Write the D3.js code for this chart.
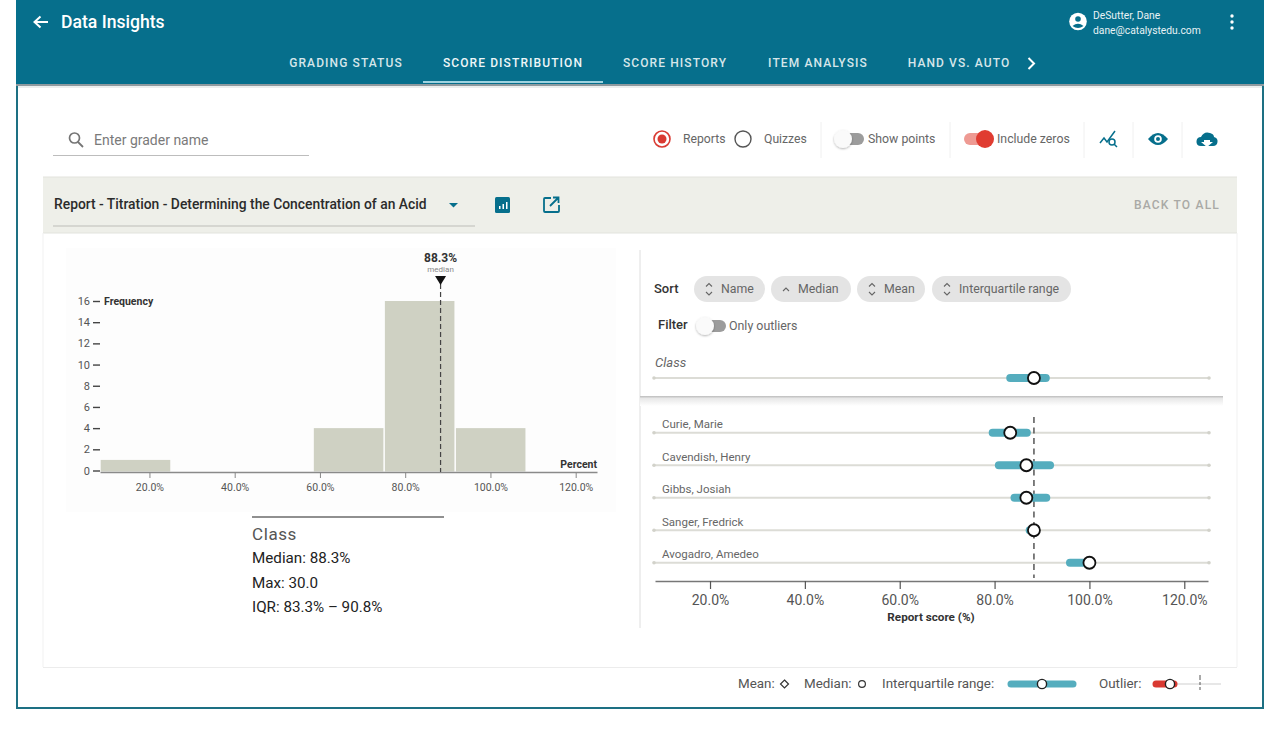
<!DOCTYPE html>
<html>
<head>
<meta charset="utf-8">
<script src="https://cdn.jsdelivr.net/npm/d3@7"></script>
<style>
  html, body { margin: 0; padding: 0; background: #fff; }
  svg { display: block; font-family: Roboto, sans-serif; }
</style>
</head>
<body>
<div id="chart"></div>
<script>
// histogram data
const binStarts = [8.33, 25, 41.67, 58.33, 75, 91.67];
const binEnds = [25, 41.67, 58.33, 75, 91.67, 108.33];
const frequencies = [1, 0, 0, 4, 16, 4];
const classMedian = 88.3;

// graders
const graders = ["Curie, Marie", "Cavendish, Henry", "Gibbs, Josiah", "Sanger, Fredrick", "Avogadro, Amedeo"];
const graderQ1 = [79.6, 80.9, 84.2, 87.4, 95.9];
const graderQ3 = [86.8, 91.7, 90.9, 88.3, 100];
const graderMedian = [83.3, 86.7, 86.7, 88.3, 100];
const classQ1 = 83.3;
const classQ3 = 90.8;

const xTicks = [20, 40, 60, 80, 100, 120];
const yTicks = [0, 2, 4, 6, 8, 10, 12, 14, 16];
const tabs = ["GRADING STATUS", "SCORE DISTRIBUTION", "SCORE HISTORY", "ITEM ANALYSIS", "HAND VS. AUTO"];
const tabX = [346, 513, 675, 818, 959];
const sortChips = ["Name", "Median", "Mean", "Interquartile range"];
const summaryLines = ["Median: 88.3%", "Max: 30.0", "IQR: 83.3% – 90.8%"];

const teal = "#066f8c";
const svg = d3.select("#chart").append("svg").attr("width", 1280).attr("height", 730);

const defs = svg.append("defs");
const fade = defs.append("linearGradient").attr("id", "fade").attr("x1", 0).attr("y1", 0).attr("x2", 0).attr("y2", 1);
fade.append("stop").attr("offset", "0%").attr("stop-color", "#bcbcbc");
fade.append("stop").attr("offset", "25%").attr("stop-color", "#e8e8e8");
fade.append("stop").attr("offset", "100%").attr("stop-color", "#ffffff");
const thumbShadow = defs.append("filter").attr("id", "thumbShadow").attr("x", "-50%").attr("y", "-50%").attr("width", "200%").attr("height", "200%");
thumbShadow.append("feDropShadow").attr("dx", 0).attr("dy", 1).attr("stdDeviation", 1.2).attr("flood-color", "#000").attr("flood-opacity", 0.3);

function label(x, y, str, size, color, opts = {}) {
    return svg.append("text").attr("x", x).attr("y", y).text(str)
        .attr("font-size", size).attr("fill", color)
        .attr("text-anchor", opts.anchor || "start")
        .attr("font-weight", opts.weight || 400)
        .attr("font-style", opts.style || "normal")
        .attr("letter-spacing", opts.spacing || 0);
}

function box(x, y, w, h, fill, r = 0) {
    return svg.append("rect").attr("x", x).attr("y", y).attr("width", w).attr("height", h).attr("rx", r).attr("fill", fill);
}

function rule(x1, y1, x2, y2, color, width = 1) {
    return svg.append("line").attr("x1", x1).attr("y1", y1).attr("x2", x2).attr("y2", y2)
        .attr("stroke", color).attr("stroke-width", width);
}

function icon(d, fill, stroke, width = 0) {
    return svg.append("path").attr("d", d).attr("fill", fill).attr("stroke", stroke).attr("stroke-width", width);
}

function toggle(x, y, on) {
    box(x, y - 6, 28, 12, on ? "#ee9a93" : "#9c9c9c", 6);
    if (on) {
        svg.append("circle").attr("cx", x + 21).attr("cy", y).attr("r", 9).attr("fill", "#e03c31");
    } else {
        svg.append("circle").attr("cx", x + 7).attr("cy", y).attr("r", 9).attr("fill", "#fafafa").attr("filter", "url(#thumbShadow)");
    }
}

function drawHeader() {
    // frame
    svg.append("rect").attr("x", 17).attr("y", 0).attr("width", 1246).attr("height", 708)
        .attr("fill", "#fff").attr("stroke", "#1d7083").attr("stroke-width", 2);
    box(16, 0, 1248, 84, teal);
    box(16, 84, 1248, 2, "#8f9a9f");
    box(16, 86, 1248, 2, "#eceeee");
    rule(17, 86, 17, 708, "#1d7083", 2);
    rule(1263, 86, 1263, 708, "#1d7083", 2);

    icon("M48,22 H35 M40.5,16.5 L34.5,22 L40.5,27.5", "none", "#fff", 2);
    label(61, 28, "Data Insights", 17.6, "#fff", { weight: 500 });

    tabs.forEach((t, i) => {
        label(tabX[i], 67, t, 12, i === 1 ? "#eef6f8" : "#d6e6ea", { anchor: "middle", weight: 500, spacing: 1.1 });
    });
    box(423, 81, 180, 2, "#9fd3e0");
    icon("M1028.5,58 L1034,63.5 L1028.5,69", "none", "#fff", 2);

    // user block
    svg.append("circle").attr("cx", 1078).attr("cy", 21.5).attr("r", 8.8).attr("fill", "#fff");
    svg.append("circle").attr("cx", 1078).attr("cy", 19).attr("r", 2.8).attr("fill", teal);
    icon("M1072.5,26 Q1078,21.5 1083.5,26 Q1078,30 1072.5,26 Z", teal, "none");
    label(1093, 19, "DeSutter, Dane", 10.3, "#e8f2f5");
    label(1093, 34, "dane@catalystedu.com", 10.3, "#e8f2f5");
    [16, 22, 28].forEach(y => svg.append("circle").attr("cx", 1232).attr("cy", y).attr("r", 1.7).attr("fill", "#fff"));
}

function drawToolbar() {
    svg.append("circle").attr("cx", 74.5).attr("cy", 138).attr("r", 5).attr("fill", "none").attr("stroke", "#757575").attr("stroke-width", 1.7);
    rule(78, 142, 83, 147, "#757575", 1.8);
    label(94, 145, "Enter grader name", 14, "#7a7a7a");
    rule(53, 155.5, 309, 155.5, "#bdbdbd", 1);

    svg.append("circle").attr("cx", 662).attr("cy", 139).attr("r", 8).attr("fill", "none").attr("stroke", "#d93a32").attr("stroke-width", 1.6);
    svg.append("circle").attr("cx", 662).attr("cy", 139).attr("r", 4.5).attr("fill", "#d93a32");
    label(683, 143, "Reports", 12.2, "#666");
    svg.append("circle").attr("cx", 743).attr("cy", 139).attr("r", 8).attr("fill", "none").attr("stroke", "#555").attr("stroke-width", 1.4);
    label(764, 143, "Quizzes", 12.2, "#666");
    [821, 950, 1084, 1133, 1182].forEach(x => rule(x, 122, x, 158, "#f0f0f0", 1));
    toggle(836, 139, false);
    label(868, 143, "Show points", 12.3, "#666");
    toggle(964, 139, true);
    label(997, 143, "Include zeros", 12.3, "#666");

    icon("M1100,143 L1104,138 L1107,142 L1115,131", "none", teal, 1.5);
    svg.append("circle").attr("cx", 1112).attr("cy", 142).attr("r", 3).attr("fill", "none").attr("stroke", teal).attr("stroke-width", 1.5);
    rule(1114, 144, 1117, 147, teal, 1.5);

    icon("M1148,139 Q1158,127 1168,139 Q1158,151 1148,139 Z", teal, "none");
    svg.append("circle").attr("cx", 1158).attr("cy", 139).attr("r", 3.8).attr("fill", "#fff");
    svg.append("circle").attr("cx", 1158).attr("cy", 139).attr("r", 2).attr("fill", teal);

    icon("M1201,146 Q1196,146 1196.5,141 Q1197,137 1201,137 Q1204,131 1210,133 Q1214,134 1214,137 Q1218,138 1217.5,142 Q1217,146 1213,146 Z", teal, "none");
    icon("M1204,140 H1210 V142 H1213 L1207,147 L1201,142 H1204 Z", "#fff", "none");

    // title strip
    box(43, 177, 1194, 56, "#eeefe9");
    rule(43, 177, 1237, 177, "#e2e3dd");
    rule(43, 233, 1237, 233, "#e2e3dd");
    label(54, 209, "Report - Titration - Determining the Concentration of an Acid", 13.85, "#2b2b2b", { weight: 500 });
    rule(53, 226, 475, 226, "#bdbdb8");
    icon("M449,203 H458 L453.5,207.5 Z", teal, "none");
    box(495, 197, 15, 16, teal, 1.5);
    [[499, 206, 3], [502.5, 204, 5], [506, 202, 7]].forEach(b => box(b[0], b[1], 1.5, b[2], "#fff"));
    icon("M551,198 H545 Q544,198 544,199 V211 Q544,212 545,212 H558 Q559,212 559,211 V205 M550,206 L558.5,197.5 M553,197.5 H558.5 V203", "none", teal, 1.8);
    label(1220, 209, "BACK TO ALL", 12, "#a9a9a5", { anchor: "end", weight: 500, spacing: 1.2 });

    // panel outline
    rule(43, 233, 43, 667, "#f1f1f1");
    rule(1237, 233, 1237, 667, "#f1f1f1");
    rule(43, 667.5, 1237, 667.5, "#ececec");
    box(66, 248, 550, 264, "#fdfdfd");
}

function drawHistogram() {
    const x = d3.scaleLinear().domain([8.4, 125]).range([100, 597]);
    const y = d3.scaleLinear().domain([0, 16]).range([470.5, 301]);
    const g = svg.append("g").attr("class", "histogram");

    g.selectAll("rect").data(frequencies.map((f, i) => ({ f, i })).filter(d => d.f > 0)).enter().append("rect")
        .attr("x", d => x(binStarts[d.i]) + 1)
        .attr("width", d => x(binEnds[d.i]) - x(binStarts[d.i]) - 1.5)
        .attr("y", d => y(d.f))
        .attr("height", d => y(0) - y(d.f) + 1)
        .attr("fill", "#cfd1c3");

    const xAxis = g.append("g").attr("transform", "translate(0,472)")
        .call(d3.axisBottom(x).tickValues(xTicks).tickSize(6).tickSizeOuter(0).tickPadding(6).tickFormat(d => d.toFixed(1) + "%"));
    xAxis.select(".domain").attr("stroke", "#8a8a8a").attr("stroke-width", 1.6);
    xAxis.selectAll(".tick line").attr("stroke", "#888");
    xAxis.selectAll("text").attr("font-family", "Roboto, sans-serif").attr("font-size", 10.5).attr("fill", "#555");

    const yAxis = g.append("g").attr("transform", "translate(100,0)")
        .call(d3.axisLeft(y).tickValues(yTicks).tickSize(7).tickPadding(3));
    yAxis.select(".domain").remove();
    yAxis.selectAll(".tick line").attr("stroke", "#444").attr("stroke-width", 1.4);
    yAxis.selectAll("text").attr("font-family", "Roboto, sans-serif").attr("font-size", 11).attr("fill", "#555");

    label(104, 305, "Frequency", 10.5, "#333", { weight: 700 });
    label(597, 468, "Percent", 10.5, "#333", { anchor: "end", weight: 700 });

    const mx = x(classMedian);
    rule(mx, 284, mx, 472, "#444", 1.2).attr("stroke-dasharray", "5 3");
    icon(`M${mx - 5.5},276 H${mx + 5.5} L${mx},285 Z`, "#111", "none");
    label(mx, 262, classMedian + "%", 12, "#333", { anchor: "middle", weight: 700 });
    label(mx, 272, "median", 8, "#888", { anchor: "middle" });

    // summary block
    rule(252, 517, 444, 517, "#222", 1.2);
    label(252, 540, "Class", 17, "#555", { spacing: 0.6 });
    [563, 588, 612].forEach((ly, i) => label(252, ly, summaryLines[i], 15.2, "#222"));
}

function drawTrack(g, cy) {
    g.append("line").attr("x1", 654).attr("x2", 1209).attr("y1", cy).attr("y2", cy).attr("stroke", "#dcdcd6").attr("stroke-width", 1.8);
    [654, 1209].forEach(cx => g.append("circle").attr("cx", cx).attr("cy", cy).attr("r", 1.8).attr("fill", "#d2d2ca"));
}

function drawMarks(g, x, cy, q1, q3, med) {
    g.append("line").attr("x1", x(q1)).attr("x2", x(q3)).attr("y1", cy).attr("y2", cy)
        .attr("stroke", "#55adbe").attr("stroke-width", 8).attr("stroke-linecap", "round");
    g.append("circle").attr("cx", x(med)).attr("cy", cy).attr("r", 6)
        .attr("fill", "#fff").attr("stroke", "#111").attr("stroke-width", 1.8);
}

function drawGraders() {
    rule(640, 250, 640, 628, "#dedede");

    label(654, 293, "Sort", 13, "#333", { weight: 500 });
    const chipX = [694, 771, 857, 932];
    const chipW = [71, 80, 68, 139];
    sortChips.forEach((c, i) => {
        box(chipX[i], 276, chipW[i], 26, "#e4e4e4", 13);
        const ax = chipX[i] + 15;
        if (i === 1) {
            icon(`M${ax - 3},291 L${ax},288 L${ax + 3},291`, "none", "#666", 1.1);
        } else {
            icon(`M${ax - 3},286.5 L${ax},283.5 L${ax + 3},286.5`, "none", "#666", 1.1);
            icon(`M${ax - 3},292 L${ax},295 L${ax + 3},292`, "none", "#666", 1.1);
        }
        label(chipX[i] + 27, 293, c, 12.3, "#666");
    });
    label(658, 329, "Filter", 13, "#333", { weight: 500 });
    toggle(698, 326, false);
    label(729, 330, "Only outliers", 12.4, "#666");
    label(655, 367, "Class", 13, "#666", { style: "italic" });

    const x = d3.scaleLinear().domain([8.4, 125]).range([655, 1208]);
    const y = d3.scaleBand().domain(graders).range([416.5, 579]);

    const classRow = svg.append("g");
    drawTrack(classRow, 378);
    drawMarks(classRow, x, 378, classQ1, classQ3, classMedian);

    svg.append("rect").attr("x", 640).attr("y", 396).attr("width", 583).attr("height", 10).attr("fill", "url(#fade)");

    // dash sits under the bars and dots, over the tracks
    const rows = svg.append("g");
    graders.forEach(name => {
        const cy = y(name) + y.bandwidth() / 2;
        drawTrack(rows, cy);
        label(662, cy - 4.5, name, 11.5, "#666");
    });
    rule(x(classMedian), 417, x(classMedian), 578, "#555", 1.5).attr("stroke-dasharray", "6 4.5");
    const marks = svg.append("g");
    graders.forEach((name, i) => {
        drawMarks(marks, x, y(name) + y.bandwidth() / 2, graderQ1[i], graderQ3[i], graderMedian[i]);
    });

    const axis = svg.append("g").attr("transform", "translate(0,581)")
        .call(d3.axisBottom(x).tickValues(xTicks).tickSize(8).tickSizeOuter(0).tickPadding(6).tickFormat(d => d.toFixed(1) + "%"));
    axis.select(".domain").attr("stroke", "#777").attr("stroke-width", 1.4);
    axis.selectAll(".tick line").attr("stroke", "#555").attr("stroke-width", 1.2);
    axis.selectAll("text").attr("font-family", "Roboto, sans-serif").attr("font-size", 14).attr("fill", "#555");
    label(931, 621, "Report score (%)", 11.7, "#333", { anchor: "middle", weight: 700 });
}

function drawLegend() {
    label(738, 688, "Mean:", 13.4, "#555");
    icon("M784.5,680 L788.5,684 L784.5,688 L780.5,684 Z", "#fff", "#333", 1.2);
    label(804, 688, "Median:", 13.4, "#555");
    svg.append("circle").attr("cx", 862).attr("cy", 684).attr("r", 3.4).attr("fill", "#fff").attr("stroke", "#333").attr("stroke-width", 1.2);
    label(882, 688, "Interquartile range:", 13.4, "#555");
    rule(1011, 684, 1073, 684, "#55adbe", 7).attr("stroke-linecap", "round");
    svg.append("circle").attr("cx", 1042).attr("cy", 684).attr("r", 4.6).attr("fill", "#fff").attr("stroke", "#222").attr("stroke-width", 1.4);
    label(1099, 688, "Outlier:", 13.4, "#555");
    rule(1156, 684, 1221, 684, "#cfcfcf", 1);
    rule(1156, 684, 1174, 684, "#d93a32", 7).attr("stroke-linecap", "round");
    svg.append("circle").attr("cx", 1170).attr("cy", 684).attr("r", 4.6).attr("fill", "#fff").attr("stroke", "#222").attr("stroke-width", 1.4);
    rule(1200, 675, 1200, 680, "#555", 1);
    rule(1200, 682, 1200, 685, "#555", 1);
    rule(1200, 687, 1200, 690, "#555", 1);
}

drawHeader();
drawToolbar();
drawHistogram();
drawGraders();
drawLegend();
</script>
</body>
</html>
